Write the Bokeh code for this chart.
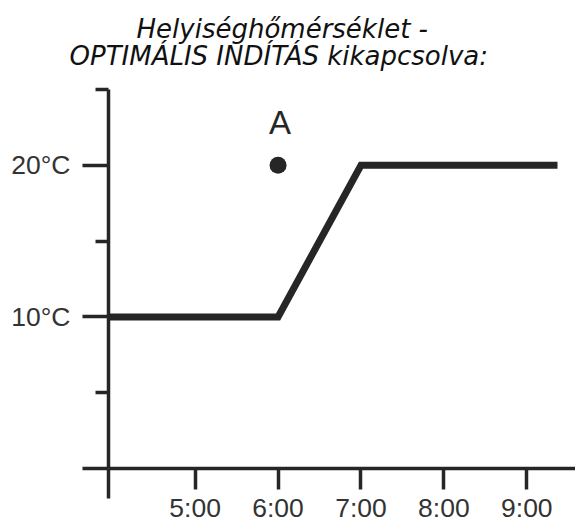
from bokeh.plotting import figure
from bokeh.models import Range1d, FixedTicker, Title, LinearAxis
from bokeh.core.properties import value
from bokeh.embed import file_html
from bokeh.resources import INLINE

# ---- data ----
title_line1 = "Helyiséghőmérséklet -"
title_line2 = "OPTIMÁLIS INDÍTÁS kikapcsolva:"

time_h = [3.955, 6.0, 7.0, 9.37]         # hours
temp_c = [10, 10, 20, 20]                # °C

point_time = [6.0]
point_temp = [20]
point_label = ["A"]

x_ticks = [5, 6, 7, 8, 9]
x_tick_labels = ["5:00", "6:00", "7:00", "8:00", "9:00"]
y_major_ticks = [0, 10, 20]
y_major_labels = ["", "10°C", "20°C"]
y_minor_ticks = [5, 15, 25]

x_start, x_end = 3.955, 9.587
y_start, y_end = 0, 25

INK = "#262626"
LABEL = "#333333"

p = figure(width=575, height=525, output_backend="svg", toolbar_location=None,
           x_range=Range1d(x_start, x_end), y_range=Range1d(y_start, y_end),
           x_axis_type=None, y_axis_type=None,
           min_border_left=108, min_border_right=0, min_border_top=89, min_border_bottom=0)
p.outline_line_color = None
p.background_fill_color = "white"
p.border_fill_color = "white"
p.xgrid.visible = False
p.ygrid.visible = False

# x axis
xa = LinearAxis(ticker=FixedTicker(ticks=x_ticks, minor_ticks=[x_start]))
xa.major_label_overrides = {t: l for t, l in zip(x_ticks, x_tick_labels)}
xa.axis_line_color = INK
xa.axis_line_width = 3.5
xa.major_tick_line_color = INK
xa.major_tick_line_width = 3.5
xa.major_tick_in = 0
xa.major_tick_out = 21
xa.minor_tick_line_color = INK
xa.minor_tick_line_width = 3.5
xa.minor_tick_in = 0
xa.minor_tick_out = 30
xa.major_label_standoff = -6
xa.major_label_text_font = "Liberation Sans"
xa.major_label_text_font_size = "26.5px"
xa.major_label_text_color = LABEL
p.add_layout(xa, "below")

# y axis
ya = LinearAxis(ticker=FixedTicker(ticks=y_major_ticks, minor_ticks=y_minor_ticks))
ya.major_label_overrides = {t: l for t, l in zip(y_major_ticks, y_major_labels)}
ya.axis_line_color = INK
ya.axis_line_width = 3.5
ya.major_tick_line_color = INK
ya.major_tick_line_width = 3.5
ya.major_tick_in = 0
ya.major_tick_out = 26
ya.minor_tick_line_color = INK
ya.minor_tick_line_width = 3.5
ya.minor_tick_in = 0
ya.minor_tick_out = 13
ya.major_label_standoff = 12
ya.major_label_text_font = "Liberation Sans"
ya.major_label_text_font_size = "26.5px"
ya.major_label_text_color = LABEL
p.add_layout(ya, "left")

# spacer between title and plot: an invisible axis with one blank tick
spacer = LinearAxis(ticker=FixedTicker(ticks=[x_start], minor_ticks=[]))
spacer.major_label_overrides = {x_start: ""}
spacer.axis_line_color = "white"
spacer.major_tick_line_color = "white"
spacer.major_tick_line_width = 1
spacer.minor_tick_line_color = None
spacer.major_tick_out = 21
spacer.major_tick_in = 0
spacer.minor_tick_out = 0
spacer.minor_tick_in = 0
spacer.major_label_standoff = 0
p.add_layout(spacer, "above")

t2 = Title(text=title_line2, align="left", offset=-39, standoff=-5,
           text_font="DejaVu Sans", text_font_style="italic",
           text_font_size="26px", text_color="#111111")
t1 = Title(text=title_line1, align="left", offset=28, standoff=-5,
           text_font="DejaVu Sans", text_font_style="italic",
           text_font_size="26px", text_color="#111111")
p.add_layout(t2, "above")
p.add_layout(t1, "above")

# data line
p.line(time_h, temp_c, line_color=INK, line_width=7, line_join="miter")

# point A
p.scatter(point_time, point_temp, size=17, fill_color=INK, line_color=None)
p.text(point_time, point_temp, text=point_label, text_font=value("Liberation Sans"),
       text_font_size="33px", text_color=INK, text_align="center",
       text_baseline="alphabetic", x_offset=2, y_offset=-43)

open("out.html", "w").write(file_html(p, INLINE))
